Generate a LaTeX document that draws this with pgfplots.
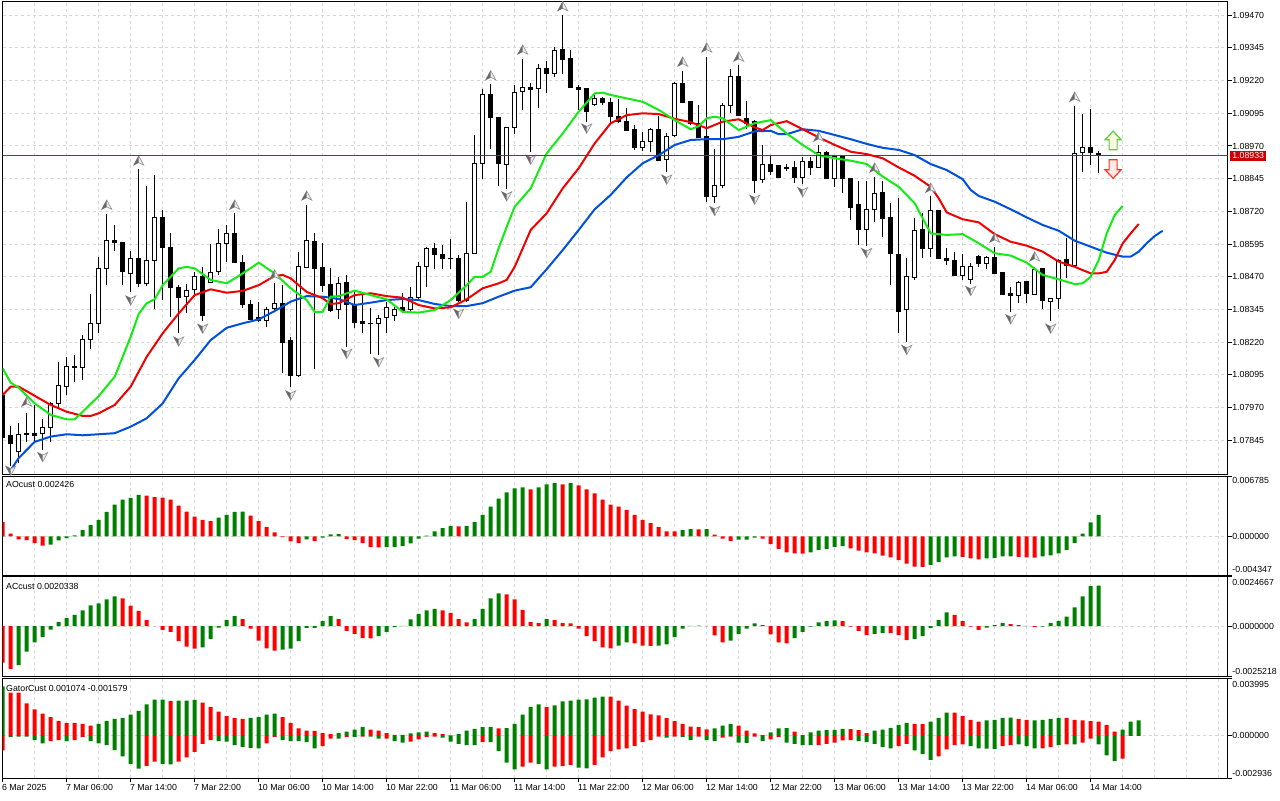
\documentclass[border=0pt]{standalone}
\usepackage{fontspec}
\setmainfont{Liberation Sans}
\usepackage{pgfplots}
\usepackage{pgfplotstable}
\pgfplotsset{compat=1.18}
\definecolor{mtgreen}{RGB}{0,128,0}
\definecolor{mtred}{RGB}{255,0,0}
\definecolor{pline}{RGB}{230,0,0}
\definecolor{jaw}{RGB}{0,80,220}
\definecolor{teeth}{RGB}{240,0,0}
\definecolor{lips}{RGB}{20,235,20}
\definecolor{gridc}{RGB}{215,215,215}
\definecolor{pbox}{RGB}{204,0,0}
\definecolor{fracdark}{RGB}{110,102,98}
\definecolor{fraclight}{RGB}{232,236,244}
\definecolor{fracedge}{RGB}{140,140,150}
\definecolor{sigup}{RGB}{90,205,60}
\definecolor{sigdn}{RGB}{255,50,40}
\newcommand\lbl{\fontsize{6.6pt}{7pt}\selectfont}

\pgfdeclareplotmark{fup}{%
 \pgfsetfillcolor{fraclight}\pgfsetstrokecolor{fracedge}\pgfsetlinewidth{0.45pt}%
 \pgfpathmoveto{\pgfqpoint{0pt}{3.8pt}}%
 \pgfpathlineto{\pgfqpoint{3.8pt}{-3.2pt}}%
 \pgfpathlineto{\pgfqpoint{0pt}{-1.3pt}}%
 \pgfpathlineto{\pgfqpoint{-3.8pt}{-3.2pt}}%
 \pgfpathclose\pgfusepathqfillstroke
 \pgfsetfillcolor{fracdark}%
 \pgfpathmoveto{\pgfqpoint{0pt}{3.8pt}}%
 \pgfpathlineto{\pgfqpoint{-3.8pt}{-3.2pt}}%
 \pgfpathlineto{\pgfqpoint{0pt}{-1.3pt}}%
 \pgfpathclose\pgfusepathqfill}
\pgfdeclareplotmark{fdn}{%
 \pgfsetfillcolor{fraclight}\pgfsetstrokecolor{fracedge}\pgfsetlinewidth{0.45pt}%
 \pgfpathmoveto{\pgfqpoint{0pt}{-3.8pt}}%
 \pgfpathlineto{\pgfqpoint{3.8pt}{3.2pt}}%
 \pgfpathlineto{\pgfqpoint{0pt}{1.3pt}}%
 \pgfpathlineto{\pgfqpoint{-3.8pt}{3.2pt}}%
 \pgfpathclose\pgfusepathqfillstroke
 \pgfsetfillcolor{fracdark}%
 \pgfpathmoveto{\pgfqpoint{0pt}{-3.8pt}}%
 \pgfpathlineto{\pgfqpoint{-3.8pt}{3.2pt}}%
 \pgfpathlineto{\pgfqpoint{0pt}{1.3pt}}%
 \pgfpathclose\pgfusepathqfill}
\pgfdeclareplotmark{sup}{%
 \pgfpathmoveto{\pgfqpoint{0pt}{7pt}}%
 \pgfpathlineto{\pgfqpoint{6pt}{0.6pt}}%
 \pgfpathlineto{\pgfqpoint{3pt}{0.6pt}}%
 \pgfpathlineto{\pgfqpoint{3pt}{-7pt}}%
 \pgfpathlineto{\pgfqpoint{-3pt}{-7pt}}%
 \pgfpathlineto{\pgfqpoint{-3pt}{0.6pt}}%
 \pgfpathlineto{\pgfqpoint{-6pt}{0.6pt}}%
 \pgfpathclose\pgfusepathqfillstroke}
\pgfdeclareplotmark{sdn}{%
 \pgfpathmoveto{\pgfqpoint{0pt}{-7pt}}%
 \pgfpathlineto{\pgfqpoint{6pt}{-0.6pt}}%
 \pgfpathlineto{\pgfqpoint{3pt}{-0.6pt}}%
 \pgfpathlineto{\pgfqpoint{3pt}{7pt}}%
 \pgfpathlineto{\pgfqpoint{-3pt}{7pt}}%
 \pgfpathlineto{\pgfqpoint{-3pt}{-0.6pt}}%
 \pgfpathlineto{\pgfqpoint{-6pt}{-0.6pt}}%
 \pgfpathclose\pgfusepathqfillstroke}

\pgfplotstableread{
i o h l c d
0 1.08018 1.08026 1.07846 1.07857 -1
1 1.07865 1.07899 1.07747 1.07836 -1
2 1.07804 1.07911 1.07758 1.07869 1
3 1.07869 1.07949 1.07838 1.07870 1
4 1.07872 1.07980 1.07834 1.07864 -1
5 1.07872 1.07926 1.07808 1.07894 1
6 1.07894 1.07991 1.07839 1.07986 1
7 1.07986 1.08145 1.07967 1.08055 1
8 1.08052 1.08164 1.08018 1.08126 1
9 1.08126 1.08171 1.08069 1.08127 1
10 1.08126 1.08247 1.08075 1.08231 1
11 1.08231 1.08404 1.08193 1.08292 1
12 1.08294 1.08544 1.08256 1.08502 1
13 1.08502 1.08710 1.08438 1.08609 1
14 1.08609 1.08668 1.08570 1.08602 -1
15 1.08602 1.08603 1.08438 1.08491 -1
16 1.08483 1.08568 1.08412 1.08541 1
17 1.08541 1.08881 1.08432 1.08445 -1
18 1.08445 1.08817 1.08435 1.08534 1
19 1.08534 1.08859 1.08347 1.08697 1
20 1.08697 1.08725 1.08381 1.08581 -1
21 1.08581 1.08638 1.08315 1.08428 -1
22 1.08430 1.08438 1.08254 1.08394 -1
23 1.08396 1.08442 1.08330 1.08419 1
24 1.08422 1.08489 1.08394 1.08473 1
25 1.08470 1.08507 1.08301 1.08321 -1
26 1.08451 1.08594 1.08445 1.08489 1
27 1.08489 1.08652 1.08477 1.08598 1
28 1.08598 1.08668 1.08526 1.08636 1
29 1.08636 1.08713 1.08523 1.08524 -1
30 1.08524 1.08553 1.08349 1.08365 -1
31 1.08365 1.08381 1.08305 1.08309 -1
32 1.08317 1.08375 1.08298 1.08305 -1
33 1.08302 1.08356 1.08277 1.08346 1
34 1.08349 1.08446 1.08335 1.08369 1
35 1.08369 1.08438 1.08101 1.08218 -1
36 1.08228 1.08239 1.08049 1.08094 -1
37 1.08091 1.08564 1.08085 1.08508 1
38 1.08505 1.08744 1.08502 1.08607 1
39 1.08607 1.08638 1.08117 1.08502 -1
40 1.08505 1.08598 1.08413 1.08436 -1
41 1.08441 1.08502 1.08336 1.08343 -1
42 1.08346 1.08468 1.08307 1.08445 1
43 1.08449 1.08477 1.08203 1.08366 -1
44 1.08366 1.08417 1.08273 1.08298 -1
45 1.08298 1.08408 1.08255 1.08292 -1
46 1.08292 1.08349 1.08175 1.08293 1
47 1.08292 1.08324 1.08171 1.08311 1
48 1.08315 1.08375 1.08254 1.08353 1
49 1.08324 1.08356 1.08302 1.08346 1
50 1.08353 1.08407 1.08330 1.08343 -1
51 1.08346 1.08430 1.08330 1.08390 1
52 1.08390 1.08528 1.08381 1.08508 1
53 1.08508 1.08585 1.08432 1.08579 1
54 1.08579 1.08600 1.08499 1.08556 -1
55 1.08556 1.08591 1.08499 1.08541 -1
56 1.08541 1.08613 1.08499 1.08540 -1
57 1.08541 1.08553 1.08375 1.08381 -1
58 1.08381 1.08757 1.08375 1.08560 1
59 1.08560 1.09012 1.08557 1.08904 1
60 1.08904 1.09187 1.08843 1.09168 1
61 1.09168 1.09206 1.08957 1.09080 -1
62 1.09080 1.09081 1.08817 1.08904 -1
63 1.08900 1.09044 1.08806 1.09041 1
64 1.09041 1.09203 1.09016 1.09177 1
65 1.09180 1.09301 1.09108 1.09194 1
66 1.09194 1.09210 1.08948 1.09187 -1
67 1.09190 1.09283 1.09116 1.09267 1
68 1.09267 1.09295 1.09174 1.09248 -1
69 1.09248 1.09350 1.09235 1.09337 1
70 1.09340 1.09471 1.09245 1.09302 -1
71 1.09305 1.09337 1.09193 1.09194 -1
72 1.09194 1.09203 1.09108 1.09189 -1
73 1.09190 1.09190 1.09063 1.09101 -1
74 1.09129 1.09165 1.09123 1.09152 1
75 1.09152 1.09158 1.09127 1.09135 -1
76 1.09137 1.09152 1.09057 1.09082 -1
77 1.09084 1.09148 1.09057 1.09062 -1
78 1.09063 1.09114 1.09030 1.09031 -1
79 1.09035 1.09050 1.08955 1.08967 -1
80 1.08967 1.09025 1.08951 1.08989 1
81 1.08986 1.09040 1.08948 1.09035 1
82 1.09035 1.09084 1.08914 1.08916 -1
83 1.08919 1.09018 1.08872 1.09009 1
84 1.09009 1.09216 1.09005 1.09210 1
85 1.09210 1.09257 1.09133 1.09137 -1
86 1.09142 1.09142 1.09050 1.09057 -1
87 1.09057 1.09127 1.09004 1.09005 -1
88 1.09008 1.09311 1.08757 1.08776 -1
89 1.08779 1.08958 1.08753 1.08818 1
90 1.08818 1.09135 1.08808 1.09127 1
91 1.09127 1.09263 1.09095 1.09238 1
92 1.09238 1.09280 1.09085 1.09086 -1
93 1.09077 1.09142 1.09034 1.09058 -1
94 1.09065 1.09069 1.08791 1.08840 -1
95 1.08843 1.08974 1.08827 1.08900 1
96 1.08900 1.08932 1.08859 1.08872 -1
97 1.08897 1.08897 1.08846 1.08850 -1
98 1.08887 1.08900 1.08874 1.08888 1
99 1.08888 1.08914 1.08830 1.08850 -1
100 1.08850 1.08929 1.08825 1.08913 1
101 1.08913 1.08929 1.08859 1.08887 -1
102 1.08888 1.08974 1.08885 1.08948 1
103 1.08948 1.08951 1.08846 1.08846 -1
104 1.08846 1.08929 1.08814 1.08929 1
105 1.08929 1.08929 1.08789 1.08846 -1
106 1.08849 1.08849 1.08687 1.08738 -1
107 1.08744 1.08836 1.08591 1.08651 -1
108 1.08651 1.08836 1.08588 1.08728 1
109 1.08728 1.08850 1.08680 1.08789 1
110 1.08793 1.08836 1.08623 1.08696 -1
111 1.08697 1.08752 1.08438 1.08560 -1
112 1.08557 1.08771 1.08255 1.08340 -1
113 1.08346 1.08542 1.08221 1.08473 1
114 1.08468 1.08693 1.08458 1.08649 1
115 1.08649 1.08713 1.08541 1.08579 -1
116 1.08579 1.08779 1.08547 1.08725 1
117 1.08725 1.08725 1.08541 1.08541 -1
118 1.08543 1.08579 1.08515 1.08534 -1
119 1.08534 1.08564 1.08474 1.08477 -1
120 1.08477 1.08556 1.08458 1.08508 1
121 1.08460 1.08524 1.08442 1.08508 1
122 1.08547 1.08553 1.08508 1.08521 -1
123 1.08521 1.08549 1.08499 1.08543 1
124 1.08543 1.08585 1.08479 1.08483 -1
125 1.08486 1.08486 1.08403 1.08403 -1
126 1.08407 1.08432 1.08336 1.08399 -1
127 1.08400 1.08454 1.08371 1.08451 1
128 1.08451 1.08454 1.08371 1.08407 -1
129 1.08404 1.08508 1.08400 1.08499 1
130 1.08502 1.08502 1.08346 1.08378 -1
131 1.08377 1.08390 1.08302 1.08388 1
132 1.08388 1.08537 1.08346 1.08531 1
133 1.08537 1.08617 1.08464 1.08515 -1
134 1.08515 1.09123 1.08508 1.08944 1
135 1.08946 1.09092 1.08872 1.08965 1
136 1.08965 1.09111 1.08897 1.08944 -1
137 1.08942 1.08951 1.08868 1.08933 -1
}\candles

\pgfplotstableread{
i v g
0 0.00164 0
1 0.00031 0
2 -0.00034 0
3 -0.00042 0
4 -0.00077 0
5 -0.00103 0
6 -0.00092 1
7 -0.00046 1
8 -0.00019 1
9 0.00011 1
10 0.00069 1
11 0.00126 1
12 0.00184 1
13 0.00276 1
14 0.00356 1
15 0.00413 1
16 0.00433 1
17 0.00467 1
18 0.00459 0
19 0.00440 0
20 0.00436 0
21 0.00413 0
22 0.00344 0
23 0.00279 0
24 0.00222 0
25 0.00184 0
26 0.00172 0
27 0.00210 1
28 0.00241 1
29 0.00276 1
30 0.00278 1
31 0.00233 0
32 0.00172 0
33 0.00103 0
34 0.00046 0
35 -0.00010 0
36 -0.00057 0
37 -0.00077 0
38 -0.00034 1
39 -0.00054 0
40 -0.00015 1
41 0.00023 1
42 0.00025 1
43 -0.00031 0
44 -0.00042 0
45 -0.00077 0
46 -0.00122 0
47 -0.00124 0
48 -0.00122 1
49 -0.00119 1
50 -0.00107 1
51 -0.00080 1
52 -0.00027 1
53 0.00009 1
54 0.00057 1
55 0.00092 1
56 0.00115 1
57 0.00113 0
58 0.00116 1
59 0.00161 1
60 0.00241 1
61 0.00333 1
62 0.00425 1
63 0.00494 1
64 0.00540 1
65 0.00551 1
66 0.00528 0
67 0.00551 1
68 0.00585 1
69 0.00597 1
70 0.00585 0
71 0.00597 1
72 0.00574 0
73 0.00528 0
74 0.00482 0
75 0.00413 0
76 0.00356 0
77 0.00333 0
78 0.00298 0
79 0.00241 0
80 0.00184 0
81 0.00149 0
82 0.00103 0
83 0.00057 0
84 0.00055 0
85 0.00069 1
86 0.00080 1
87 0.00079 0
88 0.00080 1
89 0.00019 0
90 -0.00027 0
91 -0.00050 0
92 -0.00038 1
93 -0.00037 1
94 -0.00015 1
95 -0.00027 0
96 -0.00088 0
97 -0.00142 0
98 -0.00180 0
99 -0.00192 0
100 -0.00193 0
101 -0.00180 1
102 -0.00153 1
103 -0.00142 1
104 -0.00119 1
105 -0.00111 1
106 -0.00134 0
107 -0.00161 0
108 -0.00180 0
109 -0.00192 0
110 -0.00218 0
111 -0.00237 0
112 -0.00268 0
113 -0.00306 0
114 -0.00341 0
115 -0.00342 0
116 -0.00321 1
117 -0.00287 1
118 -0.00237 1
119 -0.00226 1
120 -0.00230 0
121 -0.00249 0
122 -0.00260 0
123 -0.00249 1
124 -0.00241 1
125 -0.00226 1
126 -0.00225 1
127 -0.00230 0
128 -0.00237 0
129 -0.00238 0
130 -0.00226 1
131 -0.00214 1
132 -0.00192 1
133 -0.00153 1
134 -0.00077 1
135 0.00031 1
136 0.00157 1
137 0.002426 1
}\aotab

\pgfplotstableread{
i v g
0 -0.00183 0
1 -0.00214 0
2 -0.00195 1
3 -0.00127 1
4 -0.00081 1
5 -0.00055 1
6 -0.00017 1
7 0.00021 1
8 0.00041 1
9 0.00057 1
10 0.00079 1
11 0.00105 1
12 0.00115 1
13 0.00134 1
14 0.00149 1
15 0.00139 0
16 0.00103 0
17 0.00077 0
18 0.00031 0
19 0.00001 0
20 -0.00019 0
21 -0.00029 0
22 -0.00075 0
23 -0.00103 0
24 -0.00113 0
25 -0.00106 1
26 -0.00065 1
27 -0.00007 1
28 0.00031 1
29 0.00051 1
30 0.00036 0
31 -0.00012 0
32 -0.00072 0
33 -0.00111 0
34 -0.00123 0
35 -0.00117 1
36 -0.00113 1
37 -0.00075 1
38 -0.00009 1
39 -0.00008 1
40 0.00026 1
41 0.00051 1
42 0.00036 0
43 -0.00024 0
44 -0.00039 0
45 -0.00060 0
46 -0.00061 0
47 -0.00050 1
48 -0.00029 1
49 -0.00005 1
50 0.00002 1
51 0.00034 1
52 0.00062 1
53 0.00079 1
54 0.00087 1
55 0.00079 0
56 0.00067 0
57 0.00036 0
58 0.00019 0
59 0.00036 1
60 0.00087 1
61 0.00139 1
62 0.00165 1
63 0.00159 0
64 0.00134 0
65 0.00082 0
66 0.00021 0
67 0.00015 0
68 0.00036 1
69 0.00031 0
70 0.00015 0
71 0.00014 0
72 -0.00012 0
73 -0.00050 0
74 -0.00075 0
75 -0.00106 0
76 -0.00111 0
77 -0.00098 1
78 -0.00081 1
79 -0.00086 0
80 -0.00098 0
81 -0.00099 0
82 -0.00098 1
83 -0.00091 1
84 -0.00055 1
85 -0.00012 1
86 0.00002 1
87 0.00003 1
88 0.00002 0
89 -0.00046 0
90 -0.00081 0
91 -0.00072 1
92 -0.00038 1
93 -0.00012 1
94 0.00014 1
95 0.00005 0
96 -0.00041 0
97 -0.00081 0
98 -0.00086 0
99 -0.00060 1
100 -0.00029 1
101 -0.00002 1
102 0.00019 1
103 0.00026 1
104 0.00029 1
105 0.00026 0
106 -0.00002 0
107 -0.00024 0
108 -0.00045 0
109 -0.00038 1
110 -0.00034 1
111 -0.00035 0
112 -0.00045 0
113 -0.00070 0
114 -0.00065 1
115 -0.00050 1
116 -0.00009 1
117 0.00031 1
118 0.00069 1
119 0.00057 0
120 0.00026 0
121 -0.00002 0
122 -0.00019 0
123 -0.00007 1
124 0.00005 1
125 0.00015 1
126 0.00010 0
127 0.00005 0
128 0.00002 0
129 -0.00005 0
130 -0.00002 1
131 0.00015 1
132 0.00027 1
133 0.00048 1
134 0.00094 1
135 0.00149 1
136 0.00201 1
137 0.0020338 1
}\actab

\pgfplotstableread{
i u uc lo lc
0 0.00345 1 -0.00102 0
1 0.00302 0 -0.00007 1
2 0.00302 0 -0.00005 1
3 0.00226 0 -0.00005 1
4 0.00184 0 -0.00029 1
5 0.00155 0 -0.00052 1
6 0.00131 0 -0.00036 0
7 0.00105 0 -0.00029 0
8 0.00091 0 -0.00036 1
9 0.00090 0 -0.00029 0
10 0.00083 0 -0.00007 0
11 0.00071 0 -0.00036 1
12 0.00083 1 -0.00052 1
13 0.00105 1 -0.00064 1
14 0.00119 1 -0.00100 1
15 0.00126 1 -0.00143 1
16 0.00148 1 -0.00195 1
17 0.00174 1 -0.00229 1
18 0.00219 1 -0.00209 0
19 0.00252 1 -0.00179 0
20 0.00253 1 -0.00195 1
21 0.00243 0 -0.00198 1
22 0.00245 1 -0.00179 0
23 0.00246 1 -0.00150 0
24 0.00250 1 -0.00112 0
25 0.00231 0 -0.00055 0
26 0.00202 0 -0.00029 0
27 0.00169 0 -0.00036 1
28 0.00138 0 -0.00040 1
29 0.00124 0 -0.00064 1
30 0.00119 0 -0.00079 1
31 0.00126 1 -0.00083 1
32 0.00131 1 -0.00088 1
33 0.00148 1 -0.00052 0
34 0.00155 1 -0.00007 0
35 0.00131 0 -0.00029 1
36 0.00091 0 -0.00036 1
37 0.00052 0 -0.00036 1
38 0.00036 0 -0.00043 1
39 0.00035 0 -0.00088 1
40 0.00019 0 -0.00071 0
41 0.00012 0 -0.00019 0
42 0.00019 1 -0.00019 1
43 0.00029 1 -0.00007 0
44 0.00043 1 -0.00007 1
45 0.00060 1 -0.00005 0
46 0.00043 0 -0.00005 1
47 0.00036 0 -0.00019 1
48 0.00019 0 -0.00019 0
49 0.00007 0 -0.00036 1
50 0.00007 1 -0.00048 1
51 0.00017 1 -0.00040 0
52 0.00024 1 -0.00024 0
53 0.00029 1 -0.00007 0
54 0.00019 0 -0.00005 0
55 0.00012 0 -0.00012 1
56 0.00003 0 -0.00040 1
57 0.00012 1 -0.00055 1
58 0.00036 1 -0.00064 1
59 0.00048 1 -0.00065 1
60 0.00060 1 -0.00043 0
61 0.00061 1 -0.00044 1
62 0.00052 0 -0.00107 1
63 0.00053 1 -0.00186 1
64 0.00083 1 -0.00233 1
65 0.00148 1 -0.00214 0
66 0.00202 1 -0.00186 0
67 0.00219 1 -0.00195 1
68 0.00202 0 -0.00233 1
69 0.00212 1 -0.00214 0
70 0.00241 1 -0.00210 0
71 0.00245 1 -0.00202 0
72 0.00252 1 -0.00221 1
73 0.00255 1 -0.00226 1
74 0.00267 1 -0.00202 0
75 0.00274 1 -0.00150 0
76 0.00273 0 -0.00107 0
77 0.00245 0 -0.00095 0
78 0.00210 0 -0.00088 0
79 0.00186 0 -0.00071 0
80 0.00169 0 -0.00043 0
81 0.00150 0 -0.00029 0
82 0.00143 0 -0.00005 0
83 0.00124 0 -0.00012 1
84 0.00102 0 -0.00005 0
85 0.00083 0 -0.00007 1
86 0.00064 0 -0.00029 1
87 0.00060 0 -0.00005 0
88 0.00045 0 -0.00029 1
89 0.00052 1 -0.00036 1
90 0.00071 1 -0.00012 0
91 0.00083 1 -0.00005 0
92 0.00071 0 -0.00048 1
93 0.00036 0 -0.00049 1
94 0.00017 0 -0.00005 0
95 0.00005 0 -0.00036 1
96 0.00024 1 -0.00024 0
97 0.00052 1 -0.00007 0
98 0.00053 1 -0.00048 1
99 0.00029 0 -0.00055 1
100 0.00005 0 -0.00064 1
101 0.00024 1 -0.00065 1
102 0.00036 1 -0.00064 0
103 0.00040 1 -0.00055 0
104 0.00041 1 -0.00048 0
105 0.00048 1 -0.00031 0
106 0.00047 0 -0.00029 0
107 0.00040 0 -0.00036 1
108 0.00019 0 -0.00043 1
109 0.00036 1 -0.00055 1
110 0.00043 1 -0.00079 1
111 0.00055 1 -0.00088 1
112 0.00076 1 -0.00071 0
113 0.00090 1 -0.00055 0
114 0.00083 0 -0.00102 1
115 0.00082 0 -0.00126 1
116 0.00100 1 -0.00167 1
117 0.00126 1 -0.00143 0
118 0.00162 1 -0.00095 0
119 0.00161 0 -0.00064 0
120 0.00138 0 -0.00060 0
121 0.00112 0 -0.00071 1
122 0.00100 0 -0.00088 1
123 0.00107 1 -0.00089 1
124 0.00112 1 -0.00090 1
125 0.00126 1 -0.00071 0
126 0.00127 1 -0.00064 0
127 0.00119 0 -0.00060 1
128 0.00112 0 -0.00071 1
129 0.00107 1 -0.00088 1
130 0.00112 1 -0.00088 0
131 0.00119 1 -0.00079 0
132 0.00126 1 -0.00064 1
133 0.00126 0 -0.00060 0
134 0.00112 0 -0.00060 1
135 0.00107 0 -0.00048 0
136 0.00102 0 -0.00019 0
137 0.00100 0 -0.00060 1
138 0.00076 0 -0.00136 1
139 0.00029 0 -0.00174 1
140 0.00043 1 -0.001579 0
141 0.00100 1 0 0
142 0.001074 1 0 0
}\gatortab

\pgfplotsset{
 panel/.style={
  scale only axis, width=918.75pt, xmin=-0.025, xmax=153.1,
  anchor=south west, clip mode=individual,
  axis line style={black, line width=0.75pt},
  major grid style={gridc, line width=0.75pt, dash pattern=on 2.25pt off 2.25pt},
  minor grid style={gridc, line width=0.75pt, dash pattern=on 2.25pt off 2.25pt},
  tick style={black, line width=0.75pt}, major tick length=3pt, minor tick length=0pt,
  tick align=outside, ytick pos=right,
  xticklabels={}, yticklabels={}, extra x tick labels={},
  tick label style={opacity=0},
  scaled x ticks=false, scaled y ticks=false,
 },
 hist/.style={ybar, bar width=3pt, bar shift=0pt, draw=none},
}
\tikzset{
 lblnode/.style={anchor=west, inner sep=0pt, font=\lbl, xshift=3.4pt},
 ttl/.style={anchor=west, inner sep=0pt, font=\lbl, xshift=2.6pt},
 xl/.style={anchor=north west, inner sep=0pt, font=\lbl, xshift=-0.7pt, yshift=-4.7pt},
}

\begin{document}
\begin{tikzpicture}
\useasboundingbox (0,0) rectangle (960pt,600pt);

% ===== main price panel =====
\begin{axis}[panel, at={(1.875pt,244.5pt)}, height=354pt,
  ymin=1.07716, ymax=1.095205,
  ytick={1.07845,1.0797,1.08095,1.0822,1.08345,1.0847,1.08595,1.0872,1.08845,1.0897,1.09095,1.0922,1.09345,1.0947},
  ymajorgrids, xtick={4,8,...,152}, xmajorgrids, xmajorticks=false]
 \addplot[draw=none, forget plot, error bars/.cd, y dir=plus, y explicit, error mark=none,
   error bar style={draw=black, line width=0.75pt}]
   table[x=i, y=l, y error expr={\thisrow{h}-\thisrow{l}}] {\candles};
 \addplot[draw=none, forget plot, restrict expr to domain={\thisrow{d}}{-2:-0.5}, error bars/.cd, y dir=both, y explicit, error mark=none,
   error bar style={draw=black, line width=3.75pt}]
   table[x=i, y expr={(\thisrow{o}+\thisrow{c})/2}, y error expr={abs(\thisrow{o}-\thisrow{c})/2+0.0000191}] {\candles};
 \addplot[draw=none, forget plot, restrict expr to domain={\thisrow{d}}{0.5:2}, error bars/.cd, y dir=both, y explicit, error mark=none,
   error bar style={draw=black, line width=3.75pt}]
   table[x=i, y expr={(\thisrow{o}+\thisrow{c})/2}, y error expr={abs(\thisrow{o}-\thisrow{c})/2+0.0000191}] {\candles};
 \addplot[draw=none, forget plot, restrict expr to domain={\thisrow{d}}{0.5:2}, error bars/.cd, y dir=both, y explicit, error mark=none,
   error bar style={draw=white, line width=2.25pt}]
   table[x=i, y expr={(\thisrow{o}+\thisrow{c})/2}, y error expr={max(abs(\thisrow{o}-\thisrow{c})/2-0.0000191,0)}] {\candles};
 \addplot[jaw, line width=1.5pt] coordinates {
 (1,1.07731) (2,1.07777) (4,1.07839) (6,1.07859) (8,1.07868) (10,1.07864) (12,1.07868) (14,1.07872)
 (16,1.07897) (18,1.07929) (20,1.07986) (22,1.08082) (24,1.08152) (26,1.08228) (28,1.08275) (30,1.08292)
 (32,1.08307) (34,1.08339) (36,1.08375) (38,1.08396) (40,1.08394) (42,1.08385) (44,1.08362) (46,1.08371)
 (48,1.08381) (50,1.08385) (52,1.08381) (54,1.08366) (56,1.08358) (58,1.08358) (60,1.08369) (62,1.08394)
 (64,1.08417) (66,1.08430) (68,1.08499) (70,1.08572) (72,1.08649) (74,1.08728) (76,1.08783) (78,1.08850)
 (80,1.08904) (82,1.08935) (84,1.08974) (86,1.08993) (88,1.08996) (90,1.08996) (92,1.09005) (94,1.09026)
 (96,1.09028) (97,1.09015) (98,1.09015) (100,1.09034) (102,1.09028) (104,1.09012) (106,1.08996) (108,1.08978)
 (110,1.08963) (112,1.08955) (114,1.08935) (116,1.08901) (118,1.08878) (120,1.08843) (121,1.08802) (122,1.08779)
 (124,1.08757) (126,1.08728) (128,1.08697) (130,1.08668) (132,1.08646) (134,1.08608) (136,1.08585) (138,1.08562)
 (140,1.08547) (141,1.08547) (142,1.08566) (143,1.08598) (144,1.08626) (145,1.08646)};
 \addplot[teeth, line width=1.5pt] coordinates {
 (0,1.08018) (1,1.08050) (2,1.08050) (4,1.08015) (6,1.07980) (8,1.07954) (10,1.07938) (11,1.07938)
 (12,1.07948) (14,1.07980) (16,1.08050) (18,1.08164) (20,1.08254) (22,1.08330) (24,1.08400) (26,1.08422)
 (28,1.08409) (30,1.08416) (32,1.08438) (34,1.08473) (35,1.08477) (36,1.08464) (38,1.08412) (40,1.08388)
 (41,1.08366) (42,1.08369) (44,1.08400) (46,1.08407) (48,1.08396) (50,1.08390) (52,1.08362) (54,1.08349)
 (56,1.08353) (58,1.08384) (60,1.08426) (62,1.08445) (63,1.08458) (64,1.08508) (66,1.08649) (68,1.08713)
 (70,1.08808) (72,1.08885) (74,1.08980) (76,1.09057) (78,1.09088) (80,1.09095) (82,1.09092) (84,1.09074)
 (86,1.09061) (88,1.09038) (90,1.09063) (92,1.09072) (94,1.09041) (95,1.09031) (96,1.09050) (98,1.09065)
 (100,1.09034) (102,1.09003) (104,1.08974) (106,1.08948) (108,1.08939) (110,1.08923) (112,1.08888) (114,1.08856)
 (116,1.08814) (117,1.08770) (118,1.08716) (120,1.08690) (122,1.08678) (124,1.08633) (126,1.08604) (128,1.08589)
 (130,1.08566) (132,1.08528) (134,1.08508) (136,1.08483) (137,1.08483) (138,1.08489) (139,1.08534) (140,1.08598)
 (141,1.08636) (142,1.08672)};
 \addplot[lips, line width=1.5pt] coordinates {
 (0,1.08120) (1,1.08065) (2,1.08046) (4,1.07986) (6,1.07942) (8,1.07925) (9,1.07925) (10,1.07954)
 (12,1.08014) (14,1.08088) (16,1.08241) (17,1.08328) (18,1.08369) (19,1.08384) (20,1.08438) (22,1.08502)
 (23,1.08508) (24,1.08502) (26,1.08458) (28,1.08445) (30,1.08483) (32,1.08524) (34,1.08483) (36,1.08426)
 (38,1.08381) (39,1.08336) (40,1.08336) (41,1.08394) (42,1.08396) (44,1.08417) (46,1.08400) (48,1.08384)
 (50,1.08336) (52,1.08333) (54,1.08343) (56,1.08381) (58,1.08438) (59,1.08470) (60,1.08470) (61,1.08489)
 (62,1.08580) (63,1.08661) (64,1.08738) (66,1.08808) (68,1.08942) (70,1.09018) (72,1.09101) (74,1.09171)
 (75,1.09174) (76,1.09165) (78,1.09152) (80,1.09139) (82,1.09108) (84,1.09069) (86,1.09034) (87,1.09046)
 (88,1.09076) (89,1.09082) (90,1.09076) (92,1.09031) (94,1.09057) (96,1.09069) (98,1.09018) (100,1.08974)
 (102,1.08935) (104,1.08923) (106,1.08914) (108,1.08901) (110,1.08853) (112,1.08814) (114,1.08751) (116,1.08636)
 (118,1.08630) (120,1.08633) (122,1.08598) (124,1.08560) (126,1.08551) (128,1.08524) (130,1.08477) (132,1.08460)
 (134,1.08442) (135,1.08445) (136,1.08470) (137,1.08534) (138,1.08636) (139,1.08706) (140,1.08741)};
 \addplot[only marks, mark=fup] coordinates {
 (3,1.07991) (13,1.08744) (17,1.08913) (29,1.08744) (34,1.08477) (38,1.08779) (61,1.09239) (65,1.09337)
 (70,1.09503) (85,1.09291) (88,1.09345) (92,1.09310) (102,1.09004) (109,1.08886) (116,1.08809) (124,1.08618)
 (129,1.08546) (134,1.09157)};
 \addplot[only marks, mark=fdn] coordinates {
 (1,1.07730) (5,1.07782) (16,1.08381) (22,1.08224) (25,1.08273) (36,1.08018) (43,1.08177) (47,1.08145)
 (57,1.08330) (63,1.08779) (66,1.08919) (73,1.09038) (83,1.08843) (89,1.08723) (94,1.08766) (100,1.08795)
 (108,1.08562) (113,1.08192) (121,1.08417) (126,1.08309) (131,1.08273)};
 \addplot[only marks, mark=sup, mark options={fill={rgb,255:red,250;green,255;blue,225}, draw=sigup, line width=0.9pt}] coordinates {(138.8,1.08991)};
 \addplot[only marks, mark=sdn, mark options={fill={rgb,255:red,255;green,235;blue,225}, draw=sigdn, line width=0.9pt}] coordinates {(138.8,1.08882)};
 \addplot[color=pline, draw=pline, solid, line width=0.8pt, mark=none] coordinates {(-0.025,1.08933) (153.1,1.08933)};
 \node[lblnode] at (axis cs:153.1,1.07845) {1.07845};
 \node[lblnode] at (axis cs:153.1,1.0797) {1.07970};
 \node[lblnode] at (axis cs:153.1,1.08095) {1.08095};
 \node[lblnode] at (axis cs:153.1,1.0822) {1.08220};
 \node[lblnode] at (axis cs:153.1,1.08345) {1.08345};
 \node[lblnode] at (axis cs:153.1,1.0847) {1.08470};
 \node[lblnode] at (axis cs:153.1,1.08595) {1.08595};
 \node[lblnode] at (axis cs:153.1,1.0872) {1.08720};
 \node[lblnode] at (axis cs:153.1,1.08845) {1.08845};
 \node[lblnode] at (axis cs:153.1,1.0897) {1.08970};
 \node[lblnode] at (axis cs:153.1,1.09095) {1.09095};
 \node[lblnode] at (axis cs:153.1,1.0922) {1.09220};
 \node[lblnode] at (axis cs:153.1,1.09345) {1.09345};
 \node[lblnode] at (axis cs:153.1,1.0947) {1.09470};
 \node[anchor=west, font=\lbl, fill=pbox, text=white, inner xsep=1.5pt, inner ysep=1.3pt, xshift=1.9pt]
   at (axis cs:153.1,1.08933) {1.08933};
\end{axis}

% ===== AO panel =====
\begin{axis}[panel, at={(1.875pt,168.75pt)}, height=74.25pt,
  ymin=-0.004347, ymax=0.006785, ytick={-0.004347,0,0.006785}, ymajorgrids,
  xtick={4,8,...,152}, xmajorgrids, xmajorticks=false]
 \addplot[hist, fill=mtgreen, restrict expr to domain={\thisrow{g}}{0.5:2}] table[x=i, y=v] {\aotab};
 \addplot[hist, fill=mtred, restrict expr to domain={\thisrow{g}}{-1:0.5}] table[x=i, y=v] {\aotab};
 \node[ttl] at (rel axis cs:0,1) [yshift=-6.3pt] {AOcust 0.002426};
 \node[lblnode] at (rel axis cs:1,1) [yshift=-3.5pt] {0.006785};
 \node[lblnode] at (axis cs:153.1,0) {0.000000};
 \node[lblnode] at (rel axis cs:1,0) [yshift=4pt] {-0.004347};
\end{axis}

% ===== AC panel =====
\begin{axis}[panel, at={(1.875pt,92.625pt)}, height=74.625pt,
  ymin=-0.0025218, ymax=0.0024667, ytick={-0.0025218,0,0.0024667}, ymajorgrids,
  xtick={4,8,...,152}, xmajorgrids, xmajorticks=false]
 \addplot[hist, fill=mtgreen, restrict expr to domain={\thisrow{g}}{0.5:2}] table[x=i, y=v] {\actab};
 \addplot[hist, fill=mtred, restrict expr to domain={\thisrow{g}}{-1:0.5}] table[x=i, y=v] {\actab};
 \node[ttl] at (rel axis cs:0,1) [yshift=-7.2pt] {ACcust 0.0020338};
 \node[lblnode] at (rel axis cs:1,1) [yshift=-4pt] {0.0024667};
 \node[lblnode] at (axis cs:153.1,0) {0.0000000};
 \node[lblnode] at (rel axis cs:1,0) [yshift=3.6pt] {-0.0025218};
\end{axis}

% ===== Gator panel =====
\begin{axis}[panel, at={(1.875pt,16.5pt)}, height=74.625pt,
  ymin=-0.002936, ymax=0.003995, ytick={-0.002936,0,0.003995}, ymajorgrids,
  xtick={0,8,...,136}, minor xtick={4,12,...,148}, xmajorgrids, xminorgrids,
  extra x ticks={144,152}, extra x tick style={major tick length=0pt},
  xtick pos=left]
 \addplot[hist, fill=mtgreen, restrict expr to domain={\thisrow{uc}}{0.5:2}] table[x=i, y=u] {\gatortab};
 \addplot[hist, fill=mtred, restrict expr to domain={\thisrow{uc}}{-1:0.5}] table[x=i, y=u] {\gatortab};
 \addplot[hist, fill=mtgreen, restrict expr to domain={\thisrow{lc}}{0.5:2}] table[x=i, y=lo] {\gatortab};
 \addplot[hist, fill=mtred, restrict expr to domain={\thisrow{lc}}{-1:0.5}] table[x=i, y=lo] {\gatortab};
 \node[ttl] at (rel axis cs:0,1) [yshift=-7.3pt] {GatorCust 0.001074 -0.001579};
 \node[lblnode] at (rel axis cs:1,1) [yshift=-4.3pt] {0.003995};
 \node[lblnode] at (axis cs:153.1,0) {0.000000};
 \node[lblnode] at (rel axis cs:1,0) [yshift=3.5pt] {-0.002936};
 \node[xl] at (axis cs:0,-0.002936) {6 Mar 2025};
 \node[xl] at (axis cs:8,-0.002936) {7 Mar 06:00};
 \node[xl] at (axis cs:16,-0.002936) {7 Mar 14:00};
 \node[xl] at (axis cs:24,-0.002936) {7 Mar 22:00};
 \node[xl] at (axis cs:32,-0.002936) {10 Mar 06:00};
 \node[xl] at (axis cs:40,-0.002936) {10 Mar 14:00};
 \node[xl] at (axis cs:48,-0.002936) {10 Mar 22:00};
 \node[xl] at (axis cs:56,-0.002936) {11 Mar 06:00};
 \node[xl] at (axis cs:64,-0.002936) {11 Mar 14:00};
 \node[xl] at (axis cs:72,-0.002936) {11 Mar 22:00};
 \node[xl] at (axis cs:80,-0.002936) {12 Mar 06:00};
 \node[xl] at (axis cs:88,-0.002936) {12 Mar 14:00};
 \node[xl] at (axis cs:96,-0.002936) {12 Mar 22:00};
 \node[xl] at (axis cs:104,-0.002936) {13 Mar 06:00};
 \node[xl] at (axis cs:112,-0.002936) {13 Mar 14:00};
 \node[xl] at (axis cs:120,-0.002936) {13 Mar 22:00};
 \node[xl] at (axis cs:128,-0.002936) {14 Mar 06:00};
 \node[xl] at (axis cs:136,-0.002936) {14 Mar 14:00};
\end{axis}
\end{tikzpicture}
\end{document}
